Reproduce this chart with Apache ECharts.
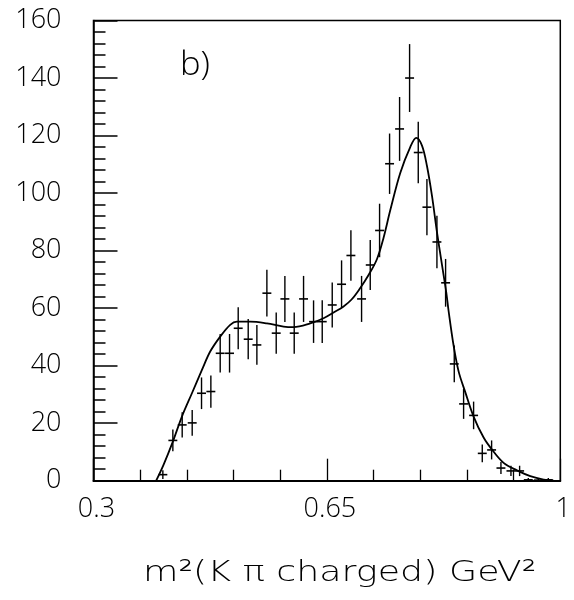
<!DOCTYPE html>
<html><head><meta charset="utf-8">
<script src="https://cdn.jsdelivr.net/npm/echarts@6/dist/echarts.min.js"></script>
<style>html,body{margin:0;padding:0;background:#fff}#c{width:574px;height:600px}</style>
</head><body><div id="c"></div>
<script>
// measured bin centres (GeV^2)
const binCenters = [0.404,0.419,0.433,0.448,0.462,0.476,0.490,0.504,0.517,0.532,0.545,0.560,0.574,0.587,0.601,0.615,0.630,0.643,0.658,0.672,0.686,0.702,0.715,0.729,0.744,0.759,0.774,0.787,0.800,0.815,0.828,0.841,0.855,0.870,0.883,0.897,0.911,0.926,0.939,0.952,0.967,0.982];
// events per bin
const counts = [2.1,14.0,19.4,20.1,30.4,31.0,44.3,44.3,53.0,49.2,47.2,65.2,51.3,63.2,51.3,63.2,55.3,55.3,61.1,68.3,78.3,63.2,75.0,87.0,110.2,122.3,140.0,114.1,95.1,83.0,68.8,40.6,26.7,22.7,9.5,10.7,4.4,3.4,3.4,0.3,0.2,0.3];
// statistical errors
const errors = [1.5,3.8,4.4,4.5,5.5,5.6,6.7,6.7,7.3,7.0,6.9,8.1,7.2,8.0,7.2,8.0,7.4,7.4,7.8,8.3,8.8,8.0,8.7,9.3,10.5,11.1,11.8,10.7,9.8,9.1,8.3,6.4,5.2,4.8,3.1,3.3,2.1,1.8,1.8,0.6,0.5,0.6];
// fitted curve
const fitX = [0.394,0.405,0.419,0.4326,0.4476,0.4626,0.475,0.490,0.505,0.515,0.535,0.560,0.585,0.600,0.625,0.645,0.660,0.675,0.687,0.700,0.7125,0.725,0.735,0.745,0.760,0.775,0.784,0.7926,0.800,0.8076,0.815,0.8226,0.829,0.8325,0.840,0.8475,0.8575,0.870,0.885,0.8976,0.915,0.935,0.955,0.975,0.990];
const fitY = [0,5.5,13.6,22.3,30.4,38.5,44.9,50.1,54.2,55.3,55.3,54.7,53.6,53.4,54.7,56.5,58.5,60.6,63,67,71.5,77,84.5,94,107,116,119.2,116.5,109.5,99,86.5,75,65.5,59,47,38,30.8,22.3,15,10.8,6.2,3.6,1.6,0.4,0];
const xTickLabels = ['0.3','0.65','1'];
const yTickLabels = ['0','20','40','60','80','100','120','140','160'];

const halfBin = 0.0067;
const FONT = "'Open Sans','DejaVu Sans',sans-serif";
const chart = echarts.init(document.getElementById('c'), null, {renderer:'canvas'});
const pts = binCenters.map((x,i)=>[x, counts[i], errors[i]]);
chart.setOption({
  animation:false,
  backgroundColor:'#fff',
  grid:{left:93.5,right:13,top:20.5,bottom:119.3,show:true,borderColor:'#000',borderWidth:1.5,backgroundColor:'transparent'},
  graphic:[
    {type:'text',x:180,y:66,scaleX:1.05,style:{text:'b)',font:"300 33px "+FONT,fill:'#000',verticalAlign:'middle'}},
    {type:'text',x:143,y:573,scaleX:1.255,style:{text:'m²(K π charged) GeV²',font:"300 29px 'DejaVu Sans',sans-serif",fill:'#000',verticalAlign:'middle'}}
  ],
  xAxis:{type:'value',min:0.3,max:1,interval:0.35,
    axisLine:{show:true,lineStyle:{color:'#000',width:2}},
    axisTick:{show:true,inside:true,length:22,lineStyle:{color:'#000',width:1.3}},
    minorTick:{show:true,splitNumber:5,length:11,lineStyle:{color:'#000',width:1.3}},
    splitLine:{show:false},
    axisLabel:{margin:15,fontFamily:FONT,fontWeight:300,fontSize:27,color:'#000',padding:[0,0,0,6],
      formatter:v=>xTickLabels[Math.round((v-0.3)/0.35)]}
  },
  yAxis:{type:'value',min:0,max:160,interval:20,
    axisLine:{show:true,lineStyle:{color:'#000',width:1.5}},
    axisTick:{show:true,inside:true,length:24,lineStyle:{color:'#000',width:1.5}},
    minorTick:{show:true,splitNumber:5,length:12,lineStyle:{color:'#000',width:1.5}},
    splitLine:{show:false},
    axisLabel:{margin:32,fontFamily:FONT,fontWeight:300,fontSize:27,color:'#000',
      formatter:v=>yTickLabels[Math.round(v/20)]}
  },
  series:[
    {type:'line',data:fitX.map((x,i)=>[x,fitY[i]]),smooth:0.35,symbol:'none',
     lineStyle:{color:'#000',width:1.8},z:3},
    {type:'custom',data:pts,encode:{x:0,y:1},z:4,
     renderItem:(params,api)=>{
       const x=api.value(0), y=api.value(1), e=api.value(2);
       const t=api.coord([x,y+e]), b=api.coord([x,Math.max(0,y-e)]);
       const l=api.coord([x-halfBin,y]), r=api.coord([x+halfBin,y]);
       return {type:'group',children:[
         {type:'line',shape:{x1:t[0],y1:t[1],x2:b[0],y2:b[1]},style:{stroke:'#000',lineWidth:1.4}},
         {type:'line',shape:{x1:l[0],y1:l[1],x2:r[0],y2:r[1]},style:{stroke:'#000',lineWidth:1.6}}
       ]};
     }}
  ]
});
</script></body></html>
